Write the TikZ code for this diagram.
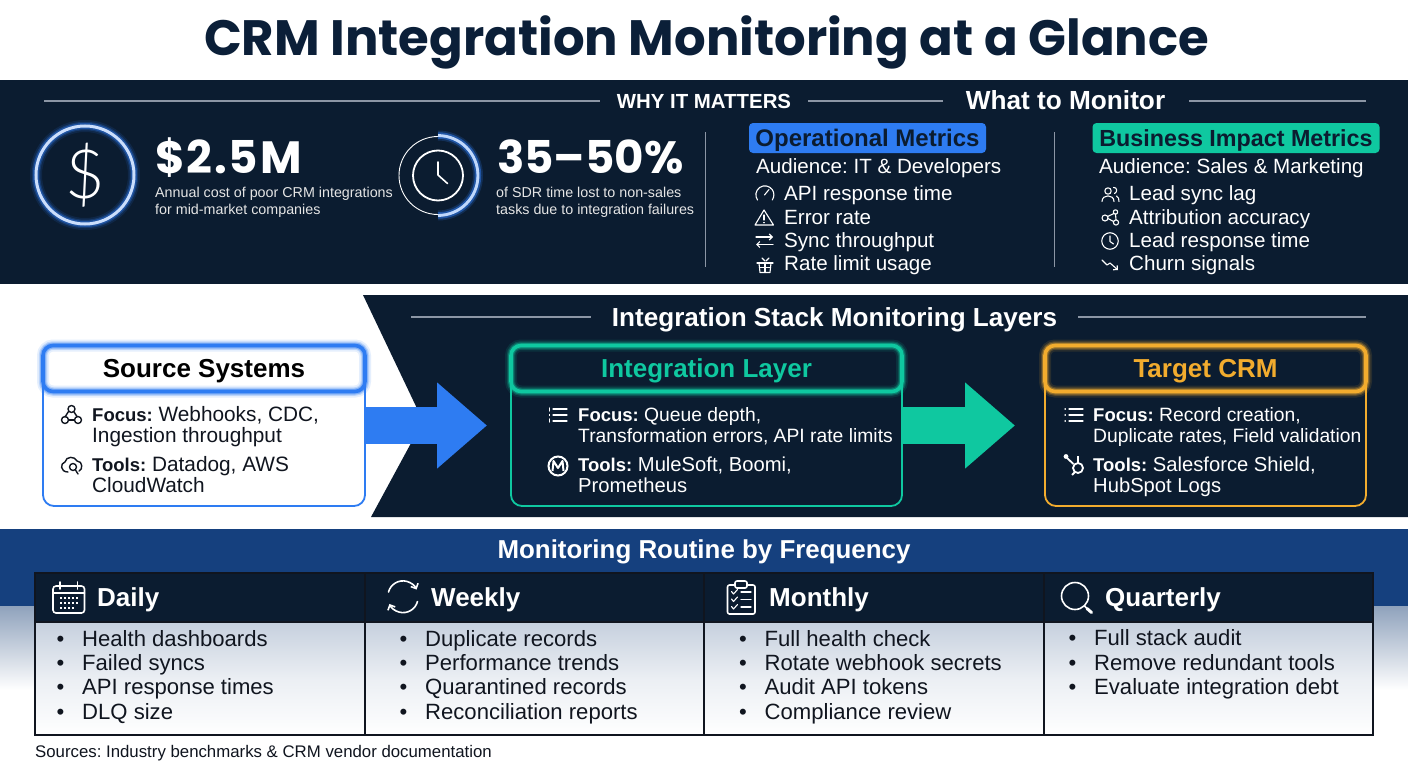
\documentclass[tikz,border=0pt]{standalone}
\usepackage{fontspec}
\setmainfont{Liberation Sans}
\newfontfamily\titlefont{Poppins}
\newfontfamily\thinfont{Lato Light}
\usetikzlibrary{arrows.meta}
\definecolor{navy}{HTML}{0B1C30}
\definecolor{titleink}{HTML}{0B1F38}
\definecolor{ink}{HTML}{10151F}
\definecolor{rulegray}{HTML}{8C96A5}
\definecolor{opblue}{HTML}{2E7CF2}
\definecolor{teal}{HTML}{0FC8A0}
\definecolor{amber}{HTML}{F2AC2E}
\definecolor{bandblue}{HTML}{15407E}
\definecolor{mist}{HTML}{8FA2BC}
\definecolor{cellmist}{HTML}{C6D0DE}
\newcommand{\bul}{\makebox[25.5pt][l]{\textbullet}}
\newcommand{\lead}[1]{{\fontsize{18.5}{21}\selectfont\bfseries #1}}
\frenchspacing
\tikzset{
	lab/.style={inner sep=0pt, anchor=base west, align=left, text=white},
	lines/.style={anchor=west, execute at begin node=\strut, execute at end node=\strut},
	ttl/.style={inner sep=0pt, anchor=base, text=white, font=\fontsize{26}{26}\selectfont\bfseries},
	thinrule/.style={rulegray, line width=1.2pt},
	stat/.style={lab, font=\fontsize{#1}{#1}\selectfont\titlefont\bfseries},
	statsub/.style={lab, lines, font=\fontsize{14.3}{16.7}\selectfont, text=white!90!black},
	metric/.style={lab, font=\fontsize{20.6}{21}\selectfont},
	pill/.style={inner sep=0pt, rounded corners=4pt, minimum height=30pt, text=navy, text height=17.4pt, text depth=0pt, font=\fontsize{24}{24}\selectfont\bfseries},
	glow/.style={preaction={draw=#1, line width=12pt, opacity=.12}, preaction={draw=#1, line width=8.5pt, opacity=.22}, preaction={draw=#1, line width=6pt, opacity=.4}},
	stackbox/.style={draw=#1, line width=1.8pt, rounded corners=11pt, minimum width=322pt, minimum height=161pt, inner sep=0pt},
	stackhead/.style={draw=#1, glow=#1, line width=3.6pt, rounded corners=10pt, inner sep=0pt, minimum height=46pt, text height=18pt, text depth=.4pt, font=\fontsize{26}{26}\selectfont\bfseries},
	bigarrow/.style={line width=37pt, -{Triangle[length=50pt,width=83pt]}},
	focusline/.style={lab, lines, font=\fontsize{#1}{21}\selectfont},
	body/.style={lab, lines, text=ink, font=\fontsize{20.8}{21}\selectfont},
	headcell/.style={draw=ink, fill=navy, line width=1.5pt, inner sep=0pt, minimum height=49pt},
	bodycell/.style={draw=ink, line width=1.5pt, inner sep=0pt, minimum height=113pt, top color=cellmist, bottom color=white, middle color=cellmist!35!white},
	freq/.style={lab, font=\fontsize{26}{26}\selectfont\bfseries},
	chores/.style={lab, lines, text=ink, font=\fontsize{22.1}{24.4}\selectfont},
	icon/.style={white, line width=1.1pt, line cap=round, line join=round},
	darkicon/.style={ink, line width=1.4pt, line cap=round, line join=round},
	bigicon/.style={white, line width=1.6pt, line cap=round, line join=round},
	barb/.style={-{Straight Barb[length=3pt,width=6pt]}}
}
\begin{document}
\begin{tikzpicture}[x=1pt, y=-1pt]
	\useasboundingbox (0,0) rectangle (1408,768);
	\fill[white] (0,0) rectangle (1408,768);

	\node[inner sep=0pt, text=titleink, font=\fontsize{49.7}{50}\selectfont\titlefont\bfseries] (maintitle) at (706.5,42) {CRM Integration Monitoring at a Glance};

	% top band
	\fill[navy] (0,80) rectangle (1408,284);
	\node[ttl, font=\fontsize{20.4}{21}\selectfont\bfseries] (whytitle) at (704,108.3) {WHY IT MATTERS};
	\node[ttl, font=\fontsize{26.2}{27}\selectfont\bfseries] (whattitle) at (1065.5,110) {What to Monitor};
	\coordinate (whyleft) at (44,101);
	\coordinate (whatright) at (1366,101);
	\draw[thinrule] (whyleft) -- (600,101);
	\draw[thinrule] (808,101) -- (943,101);
	\draw[thinrule] (1189,101) -- (whatright);

	\node[circle, minimum size=98pt, inner sep=0pt, draw=white!75!opblue, line width=3pt, glow=opblue, text=white, font=\fontsize{68}{68}\selectfont\thinfont] (coin) at (85,175) {\$};
	\node[stat=45.2] (coststat) at (155,173.3) {\addfontfeature{LetterSpace=4}\$2.5M};
	\node[statsub] (costnote) at (155,203.3) {Annual cost of poor CRM integrations\\for mid-market companies};

	\node[circle, minimum size=78pt, inner sep=0pt, draw=white, line width=.9pt] (dial) at (438,175.5) {};
	\node[circle, minimum size=50pt, inner sep=0pt, draw=white, line width=1.8pt] (clockface) at (438,175.5) {};
	\draw[opblue, line width=10pt, opacity=.2] (438,135.5) arc[start angle=90, end angle=-90, radius=40pt];
	\draw[opblue, line width=6.5pt, opacity=.5] (438,135.5) arc[start angle=90, end angle=-90, radius=40pt];
	\draw[white!70!opblue, line width=2.8pt] (438,135.5) arc[start angle=90, end angle=-90, radius=40pt];
	\draw[white, line width=1.6pt, line cap=round, line join=round] (438,162) -- (438,175) -- (447.5,183.5);
	\node[stat=45.2] (timestat) at (497,173.3) {35–50\%};
	\node[statsub] (timenote) at (496,203.3) {of SDR time lost to non-sales\\tasks due to integration failures};

	\draw[rulegray, line width=1pt] (705,132) -- (705,267);
	\draw[rulegray, line width=1pt] (1054,132) -- (1054,267);

	\node[pill, fill=opblue, minimum width=237pt] (oppill) at (867.5,138) {Operational Metrics};
	\node[metric] (opaud) at (756,173.3) {Audience: IT \& Developers};
	\node[metric] (apitime) at (784,200.7) {API response time};
	\node[metric] (errrate) at (784,224) {Error rate};
	\node[metric] (syncrate) at (784,247.3) {Sync throughput};
	\node[metric] (limituse) at (784,270.7) {Rate limit usage};

	\node[pill, fill=teal, minimum width=287pt, font=\fontsize{23.3}{24}\selectfont\bfseries] (bizpill) at (1236,138) {Business Impact Metrics};
	\node[metric] (bizaud) at (1099,173.3) {Audience: Sales \& Marketing};
	\node[metric] (synclag) at (1129,200.7) {Lead sync lag};
	\node[metric] (attrib) at (1129,224) {Attribution accuracy};
	\node[metric] (leadtime) at (1129,247.3) {Lead response time};
	\node[metric] (churn) at (1129,270.7) {Churn signals};

	% metric icons
	\draw[icon] (757.5,200) arc[start angle=215, end angle=-35, radius=9pt];
	\draw[icon] (764.5,195) -- (769,189.5);
	\draw[icon] (764,210) -- (773.5,225) -- (755,225) -- cycle;
	\draw[icon] (764,215) -- (764,220);
	\draw[icon] (764,222.5) -- (764,222.8);
	\draw[icon, barb] (756,237) -- (773,237);
	\draw[icon, barb] (773,244.5) -- (756,244.5);
	\draw[icon] (762,258) -- (765,261);
	\draw[icon] (769,258) -- (766,261);
	\draw[icon] (757,263) -- (773,263);
	\draw[icon] (759,263) -- (760,272.5) -- (770,272.5) -- (771,263);
	\draw[icon] (765,263) -- (765,272.5);
	\draw[icon] (759.5,267.5) -- (770.5,267.5);

	\draw[icon] (1108,191) circle[radius=3.2];
	\draw[icon] (1102,201.5) .. controls (1102,194) and (1114,194) .. (1114,201.5);
	\draw[icon] (1113.5,187.5) .. controls (1117,187) and (1118,192) .. (1114.5,193.5);
	\draw[icon] (1116.5,196) .. controls (1118.5,197) and (1119,199) .. (1119,201.5);
	\draw[icon] (1115.5,212) circle[radius=2.2];
	\draw[icon] (1105,218) circle[radius=3];
	\draw[icon] (1116,222.5) circle[radius=2.6];
	\draw[icon] (1114,213.5) -- (1107.5,216.5);
	\draw[icon] (1108,218.5) -- (1113.5,221.5);
	\draw[icon] (1115.5,214) -- (1116,220);
	\node[circle, minimum size=16.5pt, inner sep=0pt, draw=white, line width=1.1pt] (leadclock) at (1110,241) {};
	\draw[icon] (1110,236) -- (1110,241.5) -- (1113.5,244);
	\draw[icon, barb] (1102,260) -- (1107,265) -- (1110,263) -- (1118,270);

	% middle band
	\fill[navy] (363,295) -- (1408,295) -- (1408,517) -- (371,517) -- (423,421) -- cycle;
	\node[ttl, font=\fontsize{26.1}{26.1}\selectfont\bfseries] (layertitle) at (834.5,326) {Integration Stack Monitoring Layers};
	\coordinate (layerleft) at (411,317);
	\coordinate (layerright) at (1366,317);
	\draw[thinrule] (layerleft) -- (591,317);
	\draw[thinrule] (1078,317) -- (layerright);

	\node[stackbox=opblue, fill=white] (srcbox) at (204,425.5) {};
	\node[stackbox=teal, minimum width=391pt] (intbox) at (706.5,425.5) {};
	\node[stackbox=amber, minimum width=321pt] (crmbox) at (1205.5,425.5) {};
	\node[stackhead=opblue, minimum width=322pt, text=black] (srchead) at (204,368.5) {Source Systems};
	\node[stackhead=teal, minimum width=391pt, text=teal] (inthead) at (706.5,368.5) {Integration Layer};
	\node[stackhead=amber, minimum width=321pt, text=amber] (crmhead) at (1205.5,368.5) {Target CRM};

	\coordinate (srctip) at (487,425.5);
	\coordinate (inttip) at (1015,425.5);
	\draw[bigarrow, opblue] (srcbox.east) -- (srctip);
	\draw[bigarrow, teal] (intbox.east) -- (inttip);

	\node[body] (srcfocus) at (92,428) {\lead{Focus:} Webhooks, CDC,\\Ingestion throughput};
	\node[body] (srctools) at (92,478) {\lead{Tools:} Datadog, AWS\\CloudWatch};
	\node[focusline=19.3] (intfocus) at (578,428) {\lead{Focus:} Queue depth,\\Transformation errors, API rate limits};
	\node[focusline=20.2] (inttools) at (578,478) {\lead{Tools:} MuleSoft, Boomi,\\Prometheus};
	\node[focusline=19.3] (crmfocus) at (1093,428) {\lead{Focus:} Record creation,\\Duplicate rates, Field validation};
	\node[focusline=20.2] (crmtools) at (1093,478) {\lead{Tools:} Salesforce Shield,\\HubSpot Logs};

	% stack icons
	\draw[darkicon] (71.5,409) circle[radius=3.5];
	\draw[darkicon] (65,420) circle[radius=3.5];
	\draw[darkicon] (78,420) circle[radius=3.5];
	\draw[darkicon] (68.5,411.5) -- (65,417);
	\draw[darkicon] (74,412) -- (77,416.5);
	\draw[darkicon] (68.5,420) -- (74.5,420);
	\draw[darkicon] (68,472) .. controls (60,472) and (60,463) .. (65,462) .. controls (66,456) and (75,456) .. (77,461) .. controls (83,461) and (83,470) .. (79,471);
	\draw[darkicon] (73,467) circle[radius=3.5];
	\draw[darkicon] (75.5,470) -- (78,474);

	\draw[icon] (553,409) -- (567,409);
	\draw[icon] (553,415) -- (567,415);
	\draw[icon] (553,421) -- (567,421);
	\draw[icon] (549.5,408) -- (549.5,411);
	\draw[icon] (549.5,414.5) -- (549.5,415.5);
	\draw[icon] (549.5,419) -- (549.5,422);
	\node[circle, minimum size=19pt, inner sep=0pt, draw=white, fill=navy, line width=2pt] (mulemark) at (558,466) {};
	\draw[white, line width=2pt, line join=round] (552.5,471) -- (553.5,461) -- (558,468) -- (562.5,461) -- (563.5,471);

	\draw[icon] (1069,409) -- (1083,409);
	\draw[icon] (1069,415) -- (1083,415);
	\draw[icon] (1069,421) -- (1083,421);
	\draw[icon] (1065,409) -- (1065.4,409);
	\draw[icon] (1065,415) -- (1065.4,415);
	\draw[icon] (1065,421) -- (1065.4,421);
	\draw[white, line width=1.8pt] (1078,468) circle[radius=5];
	\draw[white, line width=1.8pt] (1073.5,464) -- (1067,458);
	\draw[white, line width=1.8pt] (1078,463) -- (1078,456);
	\draw[white, line width=1.8pt] (1075,472) -- (1072,475);
	\fill[white] (1066,456.5) circle[radius=2.4];

	% routine band
	\fill[bandblue] (0,529) rectangle (1408,606);
	\shade[top color=mist, bottom color=white] (0,606) rectangle (1408,690);
	\node[ttl, font=\fontsize{25.9}{26}\selectfont\bfseries] (routinetitle) at (704,558.3) {Monitoring Routine by Frequency};

	\node[headcell, minimum width=330pt] (dailyhead) at (200,597.5) {};
	\node[headcell, minimum width=339pt] (weeklyhead) at (534.5,597.5) {};
	\node[headcell, minimum width=340pt] (monthlyhead) at (874,597.5) {};
	\node[headcell, minimum width=329pt] (quarterhead) at (1208.5,597.5) {};
	\node[bodycell, minimum width=330pt] (dailybody) at (200,678.5) {};
	\node[bodycell, minimum width=339pt] (weeklybody) at (534.5,678.5) {};
	\node[bodycell, minimum width=340pt] (monthlybody) at (874,678.5) {};
	\node[bodycell, minimum width=329pt] (quarterbody) at (1208.5,678.5) {};

	\node[freq] (dailylab) at (97,606) {Daily};
	\node[freq] (weeklylab) at (431,606) {Weekly};
	\node[freq] (monthlylab) at (769,606) {Monthly};
	\node[freq] (quarterlab) at (1105,606) {Quarterly};

	\node[chores] (dailylist) at (56.5,678.4) {\bul Health dashboards\\\bul Failed syncs\\\bul API response times\\\bul DLQ size};
	\node[chores] (weeklylist) at (399.5,678.4) {\bul Duplicate records\\\bul Performance trends\\\bul Quarantined records\\\bul Reconciliation reports};
	\node[chores] (monthlylist) at (739,678.4) {\bul Full health check\\\bul Rotate webhook secrets\\\bul Audit API tokens\\\bul Compliance review};
	\node[chores, anchor=north west] (quarterlist) at (1068.5,629.6) {\bul Full stack audit\\\bul Remove redundant tools\\\bul Evaluate integration debt};

	% routine icons
	\draw[bigicon, rounded corners=3pt] (53,586) rectangle (84.5,613);
	\draw[bigicon] (53,593) -- (84.5,593);
	\draw[bigicon] (60,582) -- (60,589);
	\draw[bigicon] (77.5,582) -- (77.5,589);
	\draw[white, line width=1.6pt, dash pattern=on 1.6pt off 2.4pt] (60,598) -- (79,598);
	\draw[white, line width=1.6pt, dash pattern=on 1.6pt off 2.4pt] (60,603) -- (79,603);
	\draw[white, line width=1.6pt, dash pattern=on 1.6pt off 2.4pt] (60,608) -- (75,608);

	\draw[bigicon, -{Straight Barb[length=4pt,width=8pt]}] (388.5,592) arc[start angle=165, end angle=25, radius=15pt];
	\draw[bigicon, -{Straight Barb[length=4pt,width=8pt]}] (417.5,601.5) arc[start angle=-15, end angle=-155, radius=15pt];

	\draw[bigicon, rounded corners=2pt] (727.5,585) rectangle (755,614);
	\draw[bigicon, fill=navy, rounded corners=2pt] (735,581) rectangle (747,588);
	\draw[icon] (731.5,591.5) -- (733.5,594) -- (737.5,589.5);
	\draw[icon] (731.5,599) -- (733.5,601.5) -- (737.5,597);
	\draw[icon] (731.5,606.5) -- (733.5,609) -- (737.5,604.5);
	\draw[icon] (741,592) -- (751,592);
	\draw[icon] (741,599.5) -- (751,599.5);
	\draw[icon] (741,607) -- (751,607);

	\draw[bigicon] (1075,596) circle[radius=13.5];
	\draw[bigicon] (1084.5,606) -- (1087,608.5);
	\draw[white, line width=3pt, line cap=round] (1087,608.5) -- (1091.5,612.5);

	\node[lab, text=ink, font=\fontsize{16.8}{17}\selectfont] (sources) at (35,757) {Sources: Industry benchmarks \& CRM vendor documentation};
\end{tikzpicture}
\end{document}
